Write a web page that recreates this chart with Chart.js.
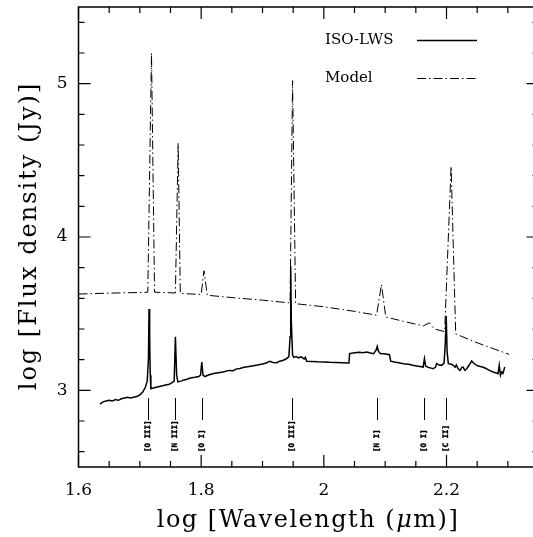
<!DOCTYPE html>
<html>
<head>
<meta charset="utf-8">
<script src="https://cdn.jsdelivr.net/npm/chart.js@4.4.0/dist/chart.umd.min.js"></script>
<style>
  html, body { margin: 0; padding: 0; background: #fff; overflow: hidden; }
</style>
</head>
<body>
<canvas id="chart" width="545" height="537"></canvas>
<script>
// ISO-LWS spectrum (log wavelength, log flux)
const obsX = [1.635, 1.640, 1.645, 1.650, 1.655, 1.660, 1.665, 1.670, 1.675, 1.680, 1.685, 1.690, 1.695, 1.700,
  1.705, 1.709, 1.712, 1.714, 1.715, 1.716, 1.717, 1.718, 1.722, 1.727, 1.732, 1.737, 1.742, 1.748, 1.752, 1.756,
  1.758, 1.760, 1.762, 1.767, 1.772, 1.777, 1.782, 1.790, 1.796, 1.799, 1.801, 1.803, 1.806, 1.812, 1.820, 1.828,
  1.836, 1.845, 1.852, 1.858, 1.863, 1.870, 1.878, 1.885, 1.892, 1.900, 1.906, 1.912, 1.917, 1.923, 1.928, 1.933,
  1.939, 1.943, 1.945, 1.946, 1.947, 1.949, 1.951, 1.955, 1.959, 1.963, 1.968, 1.970, 1.972, 1.980, 1.990, 2.000,
  2.010, 2.020, 2.030, 2.041, 2.042, 2.050, 2.058, 2.064, 2.070, 2.076, 2.081, 2.085, 2.087, 2.089, 2.092, 2.098,
  2.103, 2.107, 2.109, 2.115, 2.122, 2.130, 2.138, 2.145, 2.151, 2.157, 2.162, 2.164, 2.166, 2.170, 2.175, 2.178,
  2.182, 2.184, 2.188, 2.192, 2.196, 2.198, 2.1995, 2.201, 2.203, 2.208, 2.211, 2.214, 2.216, 2.219, 2.222, 2.225,
  2.227, 2.230, 2.233, 2.237, 2.241, 2.245, 2.249, 2.255, 2.260, 2.265, 2.270, 2.276, 2.280, 2.284, 2.286, 2.288,
  2.290, 2.292, 2.295];
const obsY = [2.910, 2.925, 2.930, 2.935, 2.930, 2.940, 2.935, 2.945, 2.950, 2.955, 2.950, 2.955, 2.960, 2.970,
  2.990, 3.020, 3.060, 3.200, 3.530, 3.350, 3.100, 3.010, 3.015, 3.020, 3.025, 3.030, 3.035, 3.040, 3.048, 3.060,
  3.350, 3.100, 3.055, 3.060, 3.068, 3.072, 3.080, 3.085, 3.090, 3.100, 3.185, 3.100, 3.090, 3.100, 3.110, 3.115,
  3.120, 3.130, 3.128, 3.140, 3.142, 3.150, 3.155, 3.160, 3.165, 3.172, 3.178, 3.190, 3.182, 3.180, 3.190, 3.195,
  3.206, 3.220, 3.350, 3.810, 3.450, 3.230, 3.215, 3.220, 3.212, 3.218, 3.205, 3.215, 3.190, 3.188, 3.186, 3.185,
  3.183, 3.182, 3.180, 3.178, 3.240, 3.245, 3.248, 3.245, 3.250, 3.243, 3.239, 3.260, 3.287, 3.255, 3.240, 3.238,
  3.235, 3.232, 3.190, 3.185, 3.180, 3.174, 3.170, 3.163, 3.159, 3.155, 3.152, 3.207, 3.158, 3.150, 3.145, 3.141,
  3.150, 3.174, 3.165, 3.163, 3.178, 3.300, 3.485, 3.250, 3.174, 3.170, 3.163, 3.150, 3.165, 3.140, 3.130, 3.150,
  3.152, 3.130, 3.141, 3.165, 3.191, 3.175, 3.163, 3.155, 3.150, 3.141, 3.130, 3.120, 3.115, 3.109, 3.163, 3.098,
  3.120, 3.110, 3.152];

// Model spectrum
const modelX = [1.600, 1.650, 1.700, 1.713, 1.719, 1.724, 1.758, 1.7625, 1.766, 1.800, 1.8046, 1.810, 1.850, 1.900,
  1.945, 1.949, 1.954, 2.000, 2.050, 2.086, 2.094, 2.101, 2.130, 2.162, 2.172, 2.180, 2.197, 2.2075, 2.215, 2.250, 2.302];
const modelY = [3.628, 3.634, 3.638, 3.640, 5.200, 3.640, 3.635, 4.610, 3.632, 3.625, 3.780, 3.620, 3.605, 3.588,
  3.570, 5.020, 3.565, 3.545, 3.515, 3.490, 3.690, 3.478, 3.450, 3.420, 3.440, 3.400, 3.383, 4.460, 3.368, 3.310, 3.235];

// identified lines
const lineNames = ['[O III]', '[N III]', '[O I]', '[O III]', '[N I]', '[O I]', '[C II]'];
const lineX = [1.714, 1.757, 1.801, 1.948, 2.086, 2.163, 2.199];

const xMajor = [1.6, 1.8, 2, 2.2];
const xMinor = [1.65, 1.7, 1.75, 1.85, 1.9, 1.95, 2.05, 2.1, 2.15, 2.25, 2.3];
const yMajor = [3, 4, 5];
const yMinor = [2.6, 2.8, 3.2, 3.4, 3.6, 3.8, 4.2, 4.4, 4.6, 4.8, 5.2, 5.4];

const serif = "'DejaVu Serif', serif";

const framePlugin = {
  id: 'frame',
  afterDraw(chart) {
    const ctx = chart.ctx, a = chart.chartArea;
    const xs = chart.scales.x, ys = chart.scales.y;
    ctx.save();
    ctx.strokeStyle = '#000';
    ctx.lineWidth = 1.5;
    ctx.strokeRect(a.left, a.top, a.right - a.left, a.bottom - a.top);

    // inward ticks on all four sides
    ctx.lineWidth = 1.2;
    ctx.beginPath();
    const xt = (v, len) => {
      const p = xs.getPixelForValue(v);
      ctx.moveTo(p, a.bottom); ctx.lineTo(p, a.bottom - len);
      ctx.moveTo(p, a.top); ctx.lineTo(p, a.top + len);
    };
    const yt = (v, len) => {
      const p = ys.getPixelForValue(v);
      ctx.moveTo(a.left, p); ctx.lineTo(a.left + len, p);
      ctx.moveTo(a.right, p); ctx.lineTo(a.right - len, p);
    };
    xMajor.forEach(v => xt(v, 12));
    xMinor.forEach(v => xt(v, 6));
    yMajor.forEach(v => yt(v, 12));
    yMinor.forEach(v => yt(v, 6));
    ctx.stroke();

    // line identifications
    ctx.lineWidth = 1;
    ctx.font = "bold 7.5px 'DejaVu Sans Mono', monospace";
    ctx.fillStyle = '#000';
    lineX.forEach((v, i) => {
      const p = Math.round(xs.getPixelForValue(v)) + 0.5;
      ctx.beginPath();
      ctx.moveTo(p, 398); ctx.lineTo(p, 420);
      ctx.stroke();
      ctx.save();
      ctx.translate(p, 452);
      ctx.rotate(-Math.PI / 2);
      ctx.textAlign = 'left';
      ctx.textBaseline = 'middle';
      ctx.lineWidth = 0.4;
      ctx.fillText(lineNames[i], 0, 0);
      ctx.strokeText(lineNames[i], 0, 0);
      ctx.restore();
    });

    // legend
    ctx.font = '15px ' + serif;
    ctx.textAlign = 'left';
    ctx.textBaseline = 'middle';
    chart.data.datasets.forEach((ds, i) => {
      const y = [40, 78][i];
      ctx.fillText(ds.label, 325, y);
      ctx.beginPath();
      ctx.lineWidth = ds.borderWidth;
      ctx.setLineDash(ds.borderDash || []);
      ctx.moveTo(417, y + 0.5); ctx.lineTo(477, y + 0.5);
      ctx.stroke();
      ctx.setLineDash([]);
    });

    // axis titles
    ctx.textBaseline = 'alphabetic';
    ctx.letterSpacing = '1.5px';
    const parts = [['log [Wavelength (', '24px ' + serif], ['\u03bc', 'italic 24px ' + serif], ['m)]', '24px ' + serif]];
    let w = 0;
    parts.forEach(([t, f]) => { ctx.font = f; w += ctx.measureText(t).width; });
    let x = 308 - w / 2;
    parts.forEach(([t, f]) => { ctx.font = f; ctx.fillText(t, x, 527); x += ctx.measureText(t).width; });

    ctx.font = '24px ' + serif;
    ctx.letterSpacing = '2px';
    ctx.translate(36, 236);
    ctx.rotate(-Math.PI / 2);
    ctx.textAlign = 'center';
    ctx.fillText('log [Flux density (Jy)]', 0, 0);
    ctx.restore();
  }
};

new Chart(document.getElementById('chart'), {
  type: 'scatter',
  data: {
    datasets: [{
      label: 'ISO-LWS',
      data: obsX.map((x, i) => ({ x: x, y: obsY[i] })),
      showLine: true,
      borderColor: '#000',
      borderWidth: 1.5,
      pointRadius: 0,
      tension: 0
    }, {
      label: 'Model',
      data: modelX.map((x, i) => ({ x: x, y: modelY[i] })),
      showLine: true,
      borderColor: '#000',
      borderWidth: 1,
      borderDash: [9, 3, 1.5, 3],
      pointRadius: 0,
      tension: 0
    }]
  },
  options: {
    responsive: false,
    devicePixelRatio: 1,
    animation: false,
    layout: { padding: { top: 7, right: 6.5, left: 0, bottom: 0 } },
    plugins: { legend: { display: false }, tooltip: { enabled: false } },
    scales: {
      x: {
        type: 'linear', min: 1.6, max: 2.35,
        afterBuildTicks: s => { s.ticks = xMajor.map(v => ({ value: v })); },
        afterFit: s => { s.height = 70; s.paddingLeft = 0; s.paddingRight = 0; },
        grid: { display: false },
        border: { display: false },
        ticks: { color: '#000', padding: 5, maxRotation: 0, autoSkip: false,
                 font: { family: 'DejaVu Serif', size: 17 }, callback: v => String(v) }
      },
      y: {
        type: 'linear', min: 2.5, max: 5.5,
        afterBuildTicks: s => { s.ticks = yMajor.map(v => ({ value: v })); },
        afterFit: s => { s.width = 78.5; s.paddingTop = 0; s.paddingBottom = 0; },
        grid: { display: false },
        border: { display: false },
        ticks: { color: '#000', padding: 3,
                 font: { family: 'DejaVu Serif', size: 17 }, callback: v => String(v) }
      }
    }
  },
  plugins: [framePlugin]
});
</script>
</body>
</html>
